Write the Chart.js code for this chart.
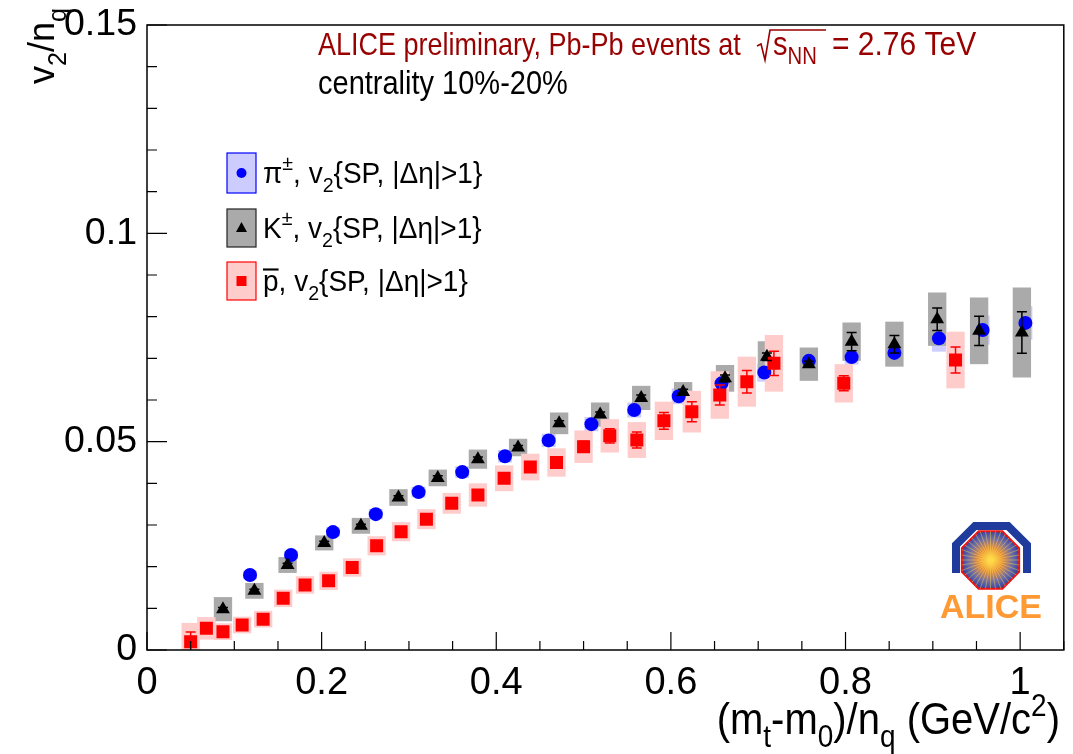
<!DOCTYPE html>
<html>
<head>
<meta charset="utf-8">
<script src="https://cdn.jsdelivr.net/npm/chart.js@4.4.1/dist/chart.umd.min.js"></script>
<style>
  html, body { margin: 0; padding: 0; background: #fff; }
  #wrap { width: 1073px; height: 754px; }
</style>
</head>
<body>
<div id="wrap"><canvas id="c" width="1073" height="754"></canvas></div>
<script>
// axis ticks
const xMajor = [0, 0.2, 0.4, 0.6, 0.8, 1.0];
const xTickLabels = ['0', '0.2', '0.4', '0.6', '0.8', '1'];
const yMajor = [0, 0.05, 0.1, 0.15];
const yTickLabels = ['0', '0.05', '0.1', '0.15'];

// pions
const piX = [0.118, 0.165, 0.213, 0.262, 0.311, 0.361, 0.410, 0.460, 0.509, 0.558, 0.609, 0.658, 0.707, 0.758, 0.807, 0.856, 0.907, 0.957, 1.006];
const piY = [0.0180, 0.0228, 0.0283, 0.0326, 0.0379, 0.0427, 0.0465, 0.0503, 0.0542, 0.0576, 0.0609, 0.0640, 0.0666, 0.0694, 0.0703, 0.0713, 0.0748, 0.0768, 0.0785];
const piSys = [0.0010, 0.0010, 0.0011, 0.0012, 0.0013, 0.0014, 0.0015, 0.0016, 0.0017, 0.0018, 0.0019, 0.0020, 0.0022, 0.0024, 0.0018, 0.0024, 0.0032, 0.0035, 0.0040];

// kaons
const kX = [0.087, 0.123, 0.161, 0.203, 0.245, 0.288, 0.333, 0.379, 0.425, 0.472, 0.519, 0.566, 0.614, 0.662, 0.710, 0.758, 0.807, 0.856, 0.905, 0.953, 1.002];
const kY = [0.0098, 0.0142, 0.0204, 0.0257, 0.0298, 0.0366, 0.0413, 0.0458, 0.0486, 0.0544, 0.0565, 0.0605, 0.0619, 0.0652, 0.0704, 0.0686, 0.0740, 0.0734, 0.0794, 0.0766, 0.0762];
const kStat = [0.0004, 0.0004, 0.0004, 0.0004, 0.0004, 0.0004, 0.0005, 0.0005, 0.0005, 0.0006, 0.0006, 0.0007, 0.0007, 0.0008, 0.0009, 0.0007, 0.0022, 0.0021, 0.0027, 0.0035, 0.0050];
const kSys = [0.0029, 0.0019, 0.0019, 0.0018, 0.0019, 0.0020, 0.0020, 0.0023, 0.0021, 0.0026, 0.0029, 0.0029, 0.0024, 0.0032, 0.0037, 0.0040, 0.0046, 0.0054, 0.0064, 0.0080, 0.0108];

// antiprotons
const pX = [0.050, 0.068, 0.087, 0.109, 0.133, 0.156, 0.181, 0.208, 0.235, 0.263, 0.291, 0.320, 0.349, 0.379, 0.409, 0.439, 0.469, 0.500, 0.530, 0.561, 0.592, 0.624, 0.656, 0.687, 0.718, 0.798, 0.926];
const pY = [0.0020, 0.0052, 0.0044, 0.0060, 0.0074, 0.0124, 0.0156, 0.0166, 0.0198, 0.0250, 0.0284, 0.0314, 0.0352, 0.0372, 0.0412, 0.0439, 0.0450, 0.0488, 0.0514, 0.0504, 0.0550, 0.0572, 0.0612, 0.0644, 0.0688, 0.0640, 0.0696];
const pStat = [0.0023, 0.0005, 0.0005, 0.0005, 0.0005, 0.0005, 0.0006, 0.0006, 0.0007, 0.0007, 0.0008, 0.0008, 0.0009, 0.0009, 0.0010, 0.0011, 0.0012, 0.0013, 0.0017, 0.0019, 0.0020, 0.0024, 0.0024, 0.0027, 0.0029, 0.0018, 0.0031];
const pSys = [0.0045, 0.0027, 0.0020, 0.0020, 0.0020, 0.0021, 0.0021, 0.0022, 0.0022, 0.0023, 0.0023, 0.0024, 0.0025, 0.0028, 0.0031, 0.0032, 0.0034, 0.0039, 0.0040, 0.0043, 0.0046, 0.0050, 0.0057, 0.0060, 0.0068, 0.0046, 0.0068];

const FONT = '"Liberation Sans", Arial, Helvetica, sans-serif';
const RED = '#990000';

const pts = (xs, ys) => xs.map((x, i) => ({ x, y: ys[i] }));

// text with sub/superscripts (slightly stretched vertically like the ROOT output), returns end x
function rich(ctx, x, y, parts, size, color, dry, sy = 1.12) {
  let cx = x;
  ctx.fillStyle = color;
  for (const [t, m] of parts) {
    const small = m === 'sub' || m === 'sup';
    const s = small ? size * 0.7 : size;
    ctx.font = s + 'px ' + FONT;
    const dy = m === 'sub' ? size * 0.32 : m === 'sup' ? -size * 0.45 : 0;
    const w = ctx.measureText(t).width;
    if (!dry) {
      ctx.save();
      ctx.translate(cx, y + dy);
      ctx.scale(1, sy);
      ctx.fillText(t, 0, 0);
      if (m === 'over') ctx.fillRect(0, -size * 0.76, w, 2);
      ctx.restore();
    }
    cx += w;
  }
  return cx;
}

function sysBoxes(ctx, X, Y, xs, ys, sys, half, fill) {
  ctx.fillStyle = fill;
  xs.forEach((x, i) => {
    const x0 = X.getPixelForValue(x - half), x1 = X.getPixelForValue(x + half);
    const y0 = Y.getPixelForValue(ys[i] + sys[i]), y1 = Y.getPixelForValue(ys[i] - sys[i]);
    ctx.fillRect(x0, y0, x1 - x0, y1 - y0);
  });
}

function statBars(ctx, X, Y, xs, ys, st, color) {
  ctx.strokeStyle = color;
  ctx.lineWidth = 1.5;
  xs.forEach((x, i) => {
    const px = X.getPixelForValue(x);
    const y0 = Y.getPixelForValue(ys[i] + st[i]), y1 = Y.getPixelForValue(ys[i] - st[i]);
    ctx.beginPath();
    ctx.moveTo(px, y0); ctx.lineTo(px, y1);
    ctx.moveTo(px - 5, y0); ctx.lineTo(px + 5, y0);
    ctx.moveTo(px - 5, y1); ctx.lineTo(px + 5, y1);
    ctx.stroke();
  });
}

function drawLogo(ctx) {
  ctx.save();
  // blue arch
  ctx.strokeStyle = '#1f3c9c';
  ctx.lineWidth = 8;
  ctx.beginPath();
  ctx.moveTo(956, 573); ctx.lineTo(956, 545); ctx.lineTo(975, 526);
  ctx.lineTo(1008, 526); ctx.lineTo(1027, 545); ctx.lineTo(1027, 573);
  ctx.stroke();
  // detector octagon
  const cx = 990.5, cy = 560, r = 31;
  ctx.beginPath();
  for (let k = 0; k < 8; k++) {
    const a = Math.PI / 8 + k * Math.PI / 4;
    const px = cx + r * Math.cos(a), py = cy + r * Math.sin(a);
    if (k === 0) ctx.moveTo(px, py); else ctx.lineTo(px, py);
  }
  ctx.closePath();
  const g = ctx.createRadialGradient(cx, cy, 2, cx, cy, r);
  g.addColorStop(0, '#ffd23c');
  g.addColorStop(0.35, '#e8903a');
  g.addColorStop(0.7, '#6a6aa8');
  g.addColorStop(1, '#2a3c9a');
  ctx.fillStyle = g;
  ctx.fill();
  ctx.strokeStyle = '#ee1111';
  ctx.lineWidth = 2;
  ctx.stroke();
  ctx.save();
  ctx.clip();
  ctx.strokeStyle = 'rgba(255,220,80,0.55)';
  ctx.lineWidth = 0.8;
  for (let k = 0; k < 36; k++) {
    const a = k * Math.PI / 18;
    ctx.beginPath();
    ctx.moveTo(cx, cy);
    ctx.lineTo(cx + r * Math.cos(a), cy + r * Math.sin(a));
    ctx.stroke();
  }
  ctx.restore();
  // text
  ctx.fillStyle = '#ff9933';
  ctx.font = 'bold 34px ' + FONT;
  ctx.textAlign = 'left';
  ctx.textBaseline = 'alphabetic';
  ctx.fillText('ALICE', 940, 618);
  ctx.restore();
}

const clipArea = (ctx, a) => {
  ctx.beginPath();
  ctx.rect(a.left, a.top, a.right - a.left, a.bottom - a.top);
  ctx.clip();
};

const rootPlugin = {
  id: 'rootPlugin',
  beforeDatasetsDraw(chart) {
    const { ctx, chartArea: a, scales: { x: X, y: Y } } = chart;
    ctx.save();
    clipArea(ctx, a);
    sysBoxes(ctx, X, Y, piX, piY, piSys, 0.008, '#ccccff');
    sysBoxes(ctx, X, Y, kX, kY, kSys, 0.0105, '#aaaaaa');
    sysBoxes(ctx, X, Y, pX, pY, pSys, 0.0105, '#ffcccc');
    ctx.restore();
  },
  afterDatasetsDraw(chart) {
    const { ctx, chartArea: a, scales: { x: X, y: Y } } = chart;
    ctx.save();
    clipArea(ctx, a);
    statBars(ctx, X, Y, kX, kY, kStat, '#000');
    statBars(ctx, X, Y, pX, pY, pStat, '#ff0000');
    ctx.restore();
  },
  afterDraw(chart) {
    const { ctx, chartArea: a, scales: { x: X, y: Y } } = chart;
    ctx.save();
    // frame
    ctx.strokeStyle = '#000';
    ctx.lineWidth = 1.5;
    ctx.strokeRect(a.left, a.top, a.right - a.left, a.bottom - a.top);
    // ticks (inside)
    ctx.lineWidth = 1.2;
    ctx.beginPath();
    for (let k = 0; k <= 21; k++) {
      const px = X.getPixelForValue(k * 0.05);
      const len = k % 4 === 0 ? 18 : 9;
      ctx.moveTo(px, a.bottom); ctx.lineTo(px, a.bottom - len);
    }
    for (let k = 0; k <= 15; k++) {
      const py = Y.getPixelForValue(k * 0.01);
      const len = k % 5 === 0 ? 20 : 10;
      ctx.moveTo(a.left, py); ctx.lineTo(a.left + len, py);
    }
    ctx.stroke();

    ctx.textAlign = 'left';
    ctx.textBaseline = 'alphabetic';
    // header
    rich(ctx, 318, 55, [['ALICE preliminary, Pb-Pb events at', '']], 27, RED, false, 1.15);
    ctx.strokeStyle = RED;
    ctx.lineWidth = 1.6;
    ctx.beginPath();
    ctx.moveTo(757, 46); ctx.lineTo(761, 44); ctx.lineTo(765, 60); ctx.lineTo(770, 30); ctx.lineTo(826, 30);
    ctx.stroke();
    rich(ctx, 773, 55, [['s', ''], ['NN', 'sub']], 29, RED, false, 1.15);
    rich(ctx, 832, 55, [['= 2.76 TeV', '']], 30, RED, false, 1.12);
    rich(ctx, 318, 94, [['centrality 10%-20%', '']], 29, '#000', false, 1.12);

    // axis titles
    const xt = [['(m', ''], ['t', 'sub'], ['-m', ''], ['0', 'sub'], [')/n', ''], ['q', 'sub'], [' (GeV/c', ''], ['2', 'sup'], [')', '']];
    const w = rich(ctx, 0, 0, xt, 40, '#000', true);
    rich(ctx, 1060 - w, 734, xt, 40, '#000');
    ctx.save();
    ctx.translate(54, 84);
    ctx.rotate(-Math.PI / 2);
    rich(ctx, 0, 0, [['v', ''], ['2', 'sub'], ['/n', ''], ['q', 'sub']], 36, '#000', false, 1.05);
    ctx.restore();

    // legend
    const leg = [
      { y: 153, h: 40, fill: '#ccccff', line: '#0000ff', mk: 'c', col: '#0000ff', base: 183,
        txt: [['\u03c0', ''], ['\u00b1', 'sup'], [', v', ''], ['2', 'sub'], ['{SP, |\u0394\u03b7|>1}', '']] },
      { y: 209, h: 38, fill: '#aaaaaa', line: '#222222', mk: 't', col: '#000', base: 238,
        txt: [['K', ''], ['\u00b1', 'sup'], [', v', ''], ['2', 'sub'], ['{SP, |\u0394\u03b7|>1}', '']] },
      { y: 262, h: 38, fill: '#ffcccc', line: '#ff0000', mk: 's', col: '#ff0000', base: 291,
        txt: [['p', 'over'], [', v', ''], ['2', 'sub'], ['{SP, |\u0394\u03b7|>1}', '']] }
    ];
    leg.forEach(L => {
      ctx.fillStyle = L.fill;
      ctx.fillRect(227, L.y, 29, L.h);
      ctx.strokeStyle = L.line;
      ctx.lineWidth = 1.2;
      ctx.strokeRect(227, L.y, 29, L.h);
      const cx = 241.5, cy = L.y + L.h / 2;
      ctx.fillStyle = L.col;
      ctx.beginPath();
      if (L.mk === 'c') ctx.arc(cx, cy, 5, 0, Math.PI * 2);
      else if (L.mk === 't') { ctx.moveTo(cx, cy - 6); ctx.lineTo(cx + 5.5, cy + 4); ctx.lineTo(cx - 5.5, cy + 4); ctx.closePath(); }
      else ctx.rect(cx - 5, cy - 5, 10, 10);
      ctx.fill();
      rich(ctx, 263, L.base, L.txt, 28, '#000', false, 1.06);
    });

    drawLogo(ctx);
    ctx.restore();
  }
};

const noPad = s => { s.paddingTop = 0; s.paddingBottom = 0; s.paddingLeft = 0; s.paddingRight = 0; };

new Chart(document.getElementById('c'), {
  type: 'scatter',
  data: {
    datasets: [
      { label: 'pi', data: pts(piX, piY), pointStyle: 'circle', pointRadius: 7, backgroundColor: '#0000ff', borderWidth: 0, order: 2 },
      { label: 'K', data: pts(kX, kY), pointStyle: 'triangle', pointRadius: 8, backgroundColor: '#000000', borderWidth: 0, order: 1 },
      { label: 'pbar', data: pts(pX, pY), pointStyle: 'rect', pointRadius: 9.2, backgroundColor: '#ff0000', borderWidth: 0, order: 0 }
    ]
  },
  options: {
    responsive: false,
    animation: false,
    devicePixelRatio: 1,
    layout: { padding: { top: 25, right: 5, left: 0, bottom: 0 } },
    plugins: { legend: { display: false }, tooltip: { enabled: false } },
    elements: { point: { hoverRadius: 0 } },
    scales: {
      x: {
        type: 'linear', min: 0, max: 1.05,
        grid: { display: false, drawTicks: false, tickLength: 0 },
        border: { display: false },
        afterBuildTicks: s => { s.ticks = xMajor.map(v => ({ value: v })); },
        afterFit: s => { s.height = 104; noPad(s); },
        ticks: { autoSkip: false, maxRotation: 0, padding: 11, color: '#000', font: { size: 38, family: FONT }, callback: (v, i) => xTickLabels[i] }
      },
      y: {
        type: 'linear', min: 0, max: 0.15,
        grid: { display: false, drawTicks: false, tickLength: 0 },
        border: { display: false },
        afterBuildTicks: s => { s.ticks = yMajor.map(v => ({ value: v })); },
        afterFit: s => { s.width = 147; noPad(s); },
        ticks: { autoSkip: false, padding: 10, color: '#000', font: { size: 37.5, family: FONT }, callback: (v, i) => yTickLabels[i] }
      }
    }
  },
  plugins: [rootPlugin]
});
</script>
</body>
</html>
